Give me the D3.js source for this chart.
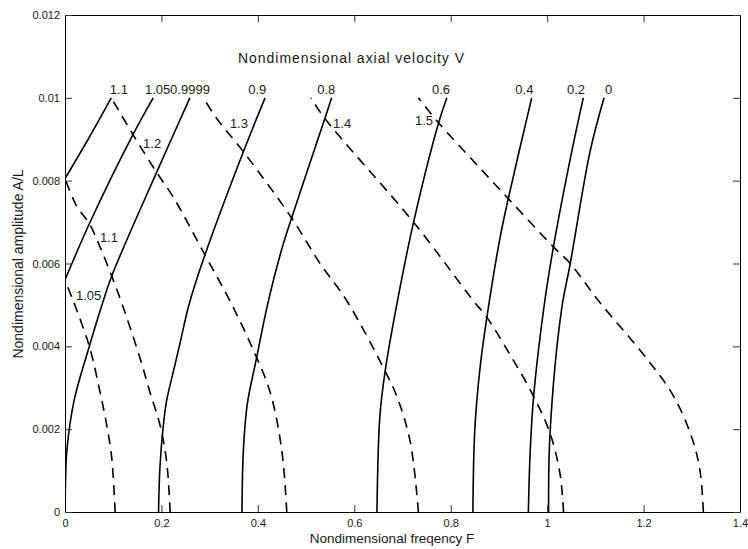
<!DOCTYPE html>
<html>
<head>
<meta charset="utf-8">
<script src="https://cdn.jsdelivr.net/npm/d3@7"></script>
<style>
  body { margin: 0; background: #fff; }
  svg { display: block; }
  text { font-family: "Liberation Sans", Arial, Helvetica, sans-serif; fill: #1a1a1a; }
</style>
</head>
<body>
<svg id="chart"></svg>
<script>
const width = 748;
const height = 549;

// tick values
const xTicks = [0, 0.2, 0.4, 0.6, 0.8, 1, 1.2, 1.4];
const yTicks = [0, 0.002, 0.004, 0.006, 0.008, 0.01, 0.012];

// solid curves (V below / near 1), points are [F, A/L]
const solidNames = ["1.1", "1.05", "0.9999", "0.9", "0.8", "0.6", "0.4", "0.2", "0"];
const solidCurves = [
  [[0, 0.00805], [0.048, 0.009], [0.096, 0.01]],
  [[0, 0.0056], [0.0505, 0.00696], [0.1417, 0.00913], [0.183, 0.01]],
  [[0, 0], [0.0008, 0.0006], [0.004, 0.0015], [0.019, 0.0027], [0.0505, 0.004], [0.074, 0.0049], [0.097, 0.0057], [0.19, 0.0082], [0.259, 0.01]],
  [[0.194, 0], [0.197, 0.0011], [0.204, 0.0021], [0.211, 0.0027], [0.225, 0.0034], [0.239, 0.0041], [0.257, 0.005], [0.29, 0.0062], [0.37, 0.0087], [0.415, 0.01]],
  [[0.367, 0], [0.37, 0.0015], [0.378, 0.0026], [0.397, 0.0037], [0.42, 0.005], [0.446, 0.0062], [0.47, 0.0071], [0.539, 0.0095], [0.553, 0.01]],
  [[0.647, 0], [0.653, 0.0023], [0.664, 0.0034], [0.688, 0.005], [0.723, 0.007], [0.775, 0.0094], [0.792, 0.01]],
  [[0.846, 0], [0.85, 0.002], [0.861, 0.0035], [0.875, 0.0047], [0.902, 0.0066], [0.92, 0.0076], [0.968, 0.01]],
  [[0.961, 0], [0.965, 0.0015], [0.972, 0.0028], [0.994, 0.005], [1.013, 0.0064], [1.051, 0.0087], [1.075, 0.01]],
  [[1.003, 0], [1.006, 0.0019], [1.03, 0.0049], [1.048, 0.006], [1.089, 0.0087], [1.118, 0.01]]
];
const solidLabelAt = [[0.093, 0.0101], [0.166, 0.0101], [0.218, 0.0101], [0.38, 0.0101], [0.523, 0.0101],
  [0.761, 0.0101], [0.934, 0.0101], [1.041, 0.0101], [1.12, 0.0101]];

// dashed curves (V above 1)
const dashedNames = ["1.05", "1.1", "1.2", "1.3", "1.4", "1.5"];
const dashedCurves = [
  [[0.104, 0], [0.097, 0.0013], [0.0865, 0.0021], [0.0726, 0.0029], [0.0505, 0.004], [0.017, 0.0051], [0, 0.0056]],
  [[0.218, 0], [0.211, 0.0012], [0.197, 0.0021], [0.176, 0.0029], [0.156, 0.0037], [0.119, 0.005], [0.0968, 0.0057], [0.0726, 0.0064], [0.0505, 0.00696], [0.0235, 0.0074], [0, 0.00805]],
  [[0.46, 0], [0.4495, 0.0015], [0.4253, 0.0029], [0.391, 0.0039], [0.342, 0.0051], [0.2905, 0.0062], [0.2247, 0.0076], [0.19, 0.0082], [0.1417, 0.0091], [0.096, 0.01]],
  [[0.733, 0], [0.716, 0.0017], [0.688, 0.0028], [0.664, 0.0034], [0.5844, 0.0051], [0.529, 0.006], [0.47, 0.0071], [0.37, 0.0087], [0.3147, 0.0095], [0.287, 0.01]],
  [[1.034, 0], [1.027, 0.0009], [1.006, 0.0019], [0.9716, 0.0028], [0.923, 0.0038], [0.875, 0.0047], [0.847, 0.0051], [0.7226, 0.007], [0.539, 0.0095], [0.51, 0.01]],
  [[1.324, 0], [1.317, 0.001], [1.3, 0.0018], [1.262, 0.0028], [1.207, 0.0037], [1.1065, 0.0051], [1.048, 0.006], [1.013, 0.0064], [0.92, 0.00756], [0.861, 0.0083], [0.7745, 0.0094], [0.733, 0.01]]
];
const dashedLabelAt = [[0.0228, 0.00513], [0.0726, 0.00653], [0.162, 0.0088], [0.342, 0.00928], [0.556, 0.00928], [0.726, 0.00935]];

const svg = d3.select("#chart")
  .attr("width", width)
  .attr("height", height);

const x = d3.scaleLinear().domain([0, 1.4]).range([65, 740]);
const y = d3.scaleLinear().domain([0, 0.012]).range([512, 15]);

svg.append("defs").append("clipPath").attr("id", "plot")
  .append("rect")
  .attr("x", 65).attr("y", 15)
  .attr("width", 675).attr("height", 497);

const line = d3.line()
  .x(d => x(d[0]))
  .y(d => y(d[1]))
  .curve(d3.curveCatmullRom.alpha(0.5));

const curves = svg.append("g").attr("clip-path", "url(#plot)");

curves.selectAll("path.solid")
  .data(solidCurves)
  .enter()
  .append("path")
  .attr("class", "solid")
  .attr("d", line)
  .attr("fill", "none")
  .attr("stroke", "#000")
  .attr("stroke-width", 1.6);

curves.selectAll("path.dashed")
  .data(dashedCurves)
  .enter()
  .append("path")
  .attr("class", "dashed")
  .attr("d", line)
  .attr("fill", "none")
  .attr("stroke", "#000")
  .attr("stroke-width", 1.6)
  .attr("stroke-dasharray", "10,7");

// axes: MATLAB style box with inward ticks
const tickLen = 7;
const fmt = d => String(d);

svg.append("g")
  .attr("transform", "translate(0,512)")
  .call(d3.axisBottom(x).tickValues(xTicks).tickFormat(fmt).tickSizeInner(-tickLen).tickSizeOuter(0).tickPadding(7));

svg.append("g")
  .attr("transform", "translate(0,15)")
  .call(d3.axisTop(x).tickValues(xTicks).tickFormat("").tickSizeInner(-tickLen).tickSizeOuter(0));

svg.append("g")
  .attr("transform", "translate(65,0)")
  .call(d3.axisLeft(y).tickValues(yTicks).tickFormat(fmt).tickSizeInner(-tickLen).tickSizeOuter(0).tickPadding(5));

svg.append("g")
  .attr("transform", "translate(740,0)")
  .call(d3.axisRight(y).tickValues(yTicks).tickFormat("").tickSizeInner(-tickLen).tickSizeOuter(0));

svg.selectAll(".domain").attr("stroke", "#000");
svg.selectAll(".tick line").attr("stroke", "#333");
svg.selectAll(".tick text").attr("font-size", 11).attr("fill", "#1a1a1a")
  .style("font-family", '"Liberation Sans", Arial, sans-serif');

// curve labels
svg.append("g").selectAll("text")
  .data(solidNames)
  .enter()
  .append("text")
  .attr("x", (d, i) => x(solidLabelAt[i][0]))
  .attr("y", (d, i) => y(solidLabelAt[i][1]))
  .attr("font-size", 13)
  .text(d => d);

svg.append("g").selectAll("text")
  .data(dashedNames)
  .enter()
  .append("text")
  .attr("x", (d, i) => x(dashedLabelAt[i][0]))
  .attr("y", (d, i) => y(dashedLabelAt[i][1]))
  .attr("font-size", 13)
  .text(d => d);

svg.append("text")
  .attr("x", 238)
  .attr("y", 63)
  .attr("font-size", 14)
  .attr("textLength", 226)
  .text("Nondimensional axial velocity V");

svg.append("text")
  .attr("x", 392)
  .attr("y", 543)
  .attr("text-anchor", "middle")
  .attr("font-size", 13.5)
  .text("Nondimensional freqency F");

svg.append("text")
  .attr("transform", "translate(23,264) rotate(-90)")
  .attr("text-anchor", "middle")
  .attr("font-size", 14)
  .text("Nondimensional amplitude A/L");
</script>
</body>
</html>
